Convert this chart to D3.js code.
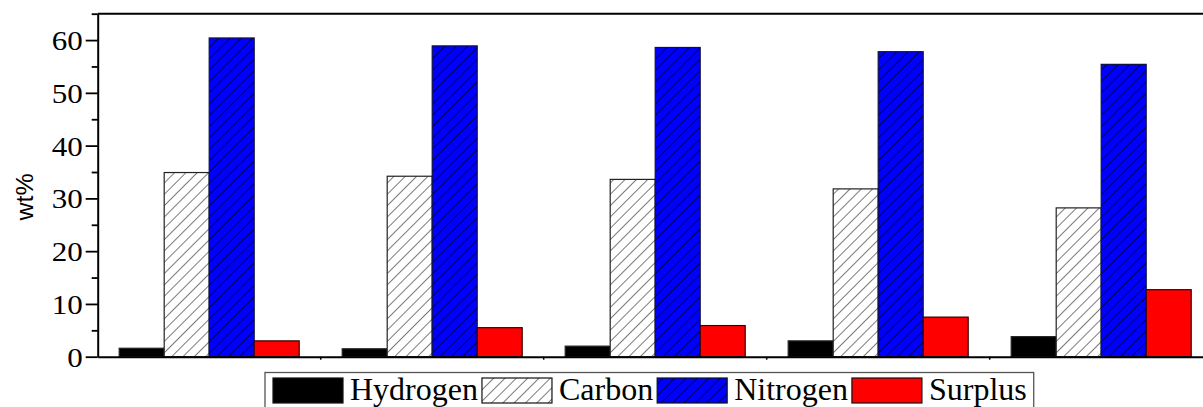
<!DOCTYPE html>
<html>
<head>
<meta charset="utf-8">
<script src="https://cdn.jsdelivr.net/npm/d3@7/dist/d3.min.js"></script>
<style>
  html, body { margin: 0; padding: 0; background: #fff; }
  svg { display: block; }
</style>
</head>
<body>
<div id="chart"></div>
<script>
// data
var categories = ["1", "2", "3", "4", "5"];
var seriesNames = ["Hydrogen", "Carbon", "Nitrogen", "Surplus"];
var hydrogen = [1.6, 1.5, 2.0, 3.0, 3.8];
var carbon   = [34.9, 34.2, 33.6, 31.8, 28.2];
var nitrogen = [60.4, 58.9, 58.6, 57.8, 55.4];
var surplus  = [3.0, 5.5, 5.9, 7.5, 12.7];
var yMajorTicks = [0, 10, 20, 30, 40, 50, 60];
var yMinorTicks = [5, 15, 25, 35, 45, 55, 65];

var W = 1203, H = 407;
var plotLeft = 97.7, plotTop = 13.7, plotBottom = 356.7, band = 223;

var svg = d3.select("#chart").append("svg")
    .attr("width", W)
    .attr("height", H);

var defs = svg.append("defs");

// hatch patterns
function hatch(id, bg, ink) {
    var p = defs.append("pattern")
        .attr("id", id)
        .attr("patternUnits", "userSpaceOnUse")
        .attr("width", 8)
        .attr("height", 8)
        .attr("patternTransform", "rotate(45)");
    p.append("rect").attr("width", 8).attr("height", 8).attr("fill", bg);
    p.append("line")
        .attr("x1", 0).attr("y1", 0).attr("x2", 0).attr("y2", 8)
        .attr("stroke", ink)
        .attr("stroke-width", 1.3);
}
hatch("hatchWhite", "#fff", "#333");
hatch("hatchBlue", "#0000ff", "#000");

var fills = {
    Hydrogen: "#000000",
    Carbon: "url(#hatchWhite)",
    Nitrogen: "url(#hatchBlue)",
    Surplus: "#ff0000"
};

var rows = categories.map(function(c, i) {
    return { cat: c, Hydrogen: hydrogen[i], Carbon: carbon[i], Nitrogen: nitrogen[i], Surplus: surplus[i] };
});

var x0 = d3.scaleBand()
    .domain(categories)
    .range([plotLeft, plotLeft + band * categories.length])
    .padding(0);

var x1 = d3.scaleBand()
    .domain(seriesNames)
    .range([21.5, 201.5])
    .padding(0);

var y = d3.scaleLinear()
    .domain([0, 65])
    .range([plotBottom, plotTop]);

// bars
var g = svg.append("g");
g.selectAll("g.grp")
    .data(rows)
    .enter().append("g")
    .attr("class", "grp")
    .attr("transform", function(d) { return "translate(" + x0(d.cat) + ",0)"; })
    .selectAll("rect")
    .data(function(d) { return seriesNames.map(function(k) { return { key: k, value: d[k] }; }); })
    .enter().append("rect")
    .attr("x", function(d) { return x1(d.key); })
    .attr("y", function(d) { return y(d.value); })
    .attr("width", x1.bandwidth())
    .attr("height", function(d) { return plotBottom - y(d.value); })
    .attr("fill", function(d) { return fills[d.key]; })
    .attr("stroke", function(d) { return d.key == "Nitrogen" ? "#101040" : (d.key == "Surplus" ? "#300" : "#222"); })
    .attr("stroke-width", 1.2);

// top frame line
svg.append("line")
    .attr("x1", plotLeft).attr("x2", W).attr("y1", plotTop).attr("y2", plotTop)
    .attr("stroke", "#000").attr("stroke-width", 2);

// bottom axis, small ticks at group edges
var xAxis = svg.append("g")
    .attr("transform", "translate(0," + plotBottom + ")")
    .call(d3.axisBottom(x0).tickSize(0).tickFormat(""));
xAxis.select(".domain").attr("stroke-width", 2);
xAxis.selectAll(".edge")
    .data(categories.slice(1))
    .enter().append("line")
    .attr("class", "edge")
    .attr("x1", function(d) { return x0(d); })
    .attr("x2", function(d) { return x0(d); })
    .attr("y1", 0).attr("y2", 3)
    .attr("stroke", "#000").attr("stroke-width", 1.5);

// left axis
var yAxis = svg.append("g")
    .attr("transform", "translate(" + plotLeft + ",0)")
    .call(d3.axisLeft(y).tickValues(yMajorTicks).tickSize(12).tickPadding(3).tickSizeOuter(0));
yAxis.select(".domain").attr("stroke-width", 2);
yAxis.selectAll(".tick line").attr("stroke-width", 1.8);
yAxis.selectAll(".tick text")
    .attr("font-family", "'Liberation Serif', 'Times New Roman', serif")
    .attr("font-size", 27)
    .attr("fill", "#000")
    .attr("dy", "0.35em")
    .attr("textLength", function(d) { return String(d).length * 15.5; })
    .attr("lengthAdjust", "spacingAndGlyphs");

var yMinor = svg.append("g")
    .attr("transform", "translate(" + plotLeft + ",0)")
    .call(d3.axisLeft(y).tickValues(yMinorTicks).tickSize(6).tickFormat("").tickSizeOuter(0));
yMinor.select(".domain").remove();
yMinor.selectAll(".tick line").attr("stroke-width", 1.8);

// y title
svg.append("text")
    .attr("transform", "translate(33,197) rotate(-90)")
    .attr("text-anchor", "middle")
    .attr("font-family", "'Liberation Sans', Arial, sans-serif")
    .attr("font-size", 23)
    .attr("textLength", 47)
    .attr("lengthAdjust", "spacingAndGlyphs")
    .text("wt%");

// legend
var leg = svg.append("g");
var legBox = leg.append("rect")
    .attr("x", 265).attr("y", 372.5)
    .attr("height", 60)
    .attr("fill", "#fff")
    .attr("stroke", "#555")
    .attr("stroke-width", 1.3);

var lx = 273;
seriesNames.forEach(function(k) {
    leg.append("rect")
        .attr("x", lx).attr("y", 378)
        .attr("width", 70).attr("height", 25)
        .attr("fill", fills[k])
        .attr("stroke", "#111")
        .attr("stroke-width", 1.2);
    lx += 70 + 7;
    var t = leg.append("text")
        .attr("x", lx).attr("y", 400)
        .attr("font-family", "'Liberation Serif', 'Times New Roman', serif")
        .attr("font-size", 32)
        .attr("fill", "#000")
        .text(k);
    lx += t.node().getComputedTextLength() + 4;
});
legBox.attr("width", lx + 3 - 265);
</script>
</body>
</html>
